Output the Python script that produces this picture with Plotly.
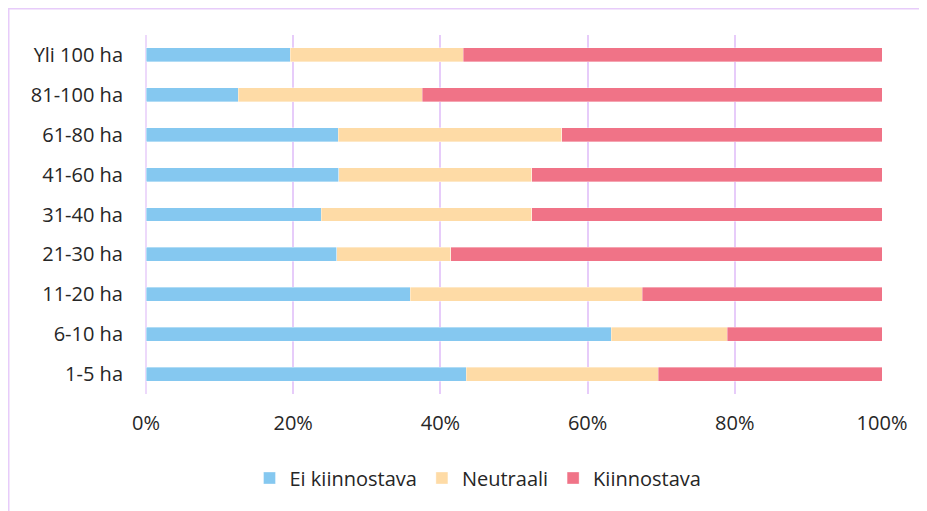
import plotly.graph_objects as go

categories = ["1-5 ha", "6-10 ha", "11-20 ha", "21-30 ha", "31-40 ha",
              "41-60 ha", "61-80 ha", "81-100 ha", "Yli 100 ha"]
ei_kiinnostava = [43.5, 63.2, 35.9, 25.9, 23.8, 26.2, 26.1, 12.5, 19.6]
neutraali = [26.1, 15.8, 31.5, 15.5, 28.6, 26.2, 30.4, 25.0, 23.5]
kiinnostava = [30.4, 21.0, 32.6, 58.6, 47.6, 47.6, 43.5, 62.5, 56.9]
x_ticks = [0, 20, 40, 60, 80, 100]
x_tick_labels = ["0%", "20%", "40%", "60%", "80%", "100%"]

series = [
    ("Ei kiinnostava", ei_kiinnostava, "#85C8F0"),
    ("Neutraali", neutraali, "#FEDBA6"),
    ("Kiinnostava", kiinnostava, "#F07387"),
]

fig = go.Figure()
for name, vals, color in series:
    fig.add_trace(go.Bar(
        y=categories, x=vals, name=name, orientation="h",
        marker=dict(color=color, line=dict(color="rgba(255,255,255,0.6)", width=0.6)),
    ))

# page body has an 8px margin; screen coords = figure coords + 8
OFF = 8
W, H = 927, 511
SL, SR, ST, SB = 146, 882, 35, 394  # plot area in screen pixels
L = SL - OFF
R = W - (SR - OFF)
T = ST - OFF
B = H - (SB - OFF)
pw, ph = SR - SL, SB - ST

def px(x):
    return (x - SL) / pw

def py(y):
    return (SB - y) / ph

font_family = "'Open Sans', Lato, sans-serif"
fig.update_layout(
    width=W, height=H,
    margin=dict(l=L, r=R, t=T, b=B),
    barmode="stack", bargap=0.65,
    paper_bgcolor="white", plot_bgcolor="white",
    font=dict(family=font_family, size=20, color="#262626"),
    xaxis=dict(
        range=[0, 100], tickvals=x_ticks, ticktext=x_tick_labels,
        showgrid=True, gridcolor="#E7CCFA", gridwidth=1.5,
        zeroline=False, showline=False, ticks="",
        ticklabelstandoff=15, tickfont=dict(size=20),
    ),
    yaxis=dict(
        categoryorder="array", categoryarray=categories,
        showgrid=False, zeroline=False, showline=False, ticks="",
        ticklabelstandoff=22, tickfont=dict(size=20),
    ),
    legend=dict(
        orientation="h", x=px(478), xanchor="center",
        y=py(478), yanchor="middle",
        font=dict(size=20), traceorder="normal",
        itemwidth=30,
    ),
    shapes=[
        dict(type="line", xref="paper", yref="paper",
             x0=0, x1=0, y0=0, y1=1,
             line=dict(color="#E7CCFA", width=1.5), layer="below"),
        dict(type="rect", xref="paper", yref="paper",
             x0=px(OFF + 0.75), x1=px(935), y0=py(520), y1=py(OFF + 0.75),
             line=dict(color="#E7CCFA", width=1.5), layer="below"),
    ],
)

fig.write_html("out.html")
